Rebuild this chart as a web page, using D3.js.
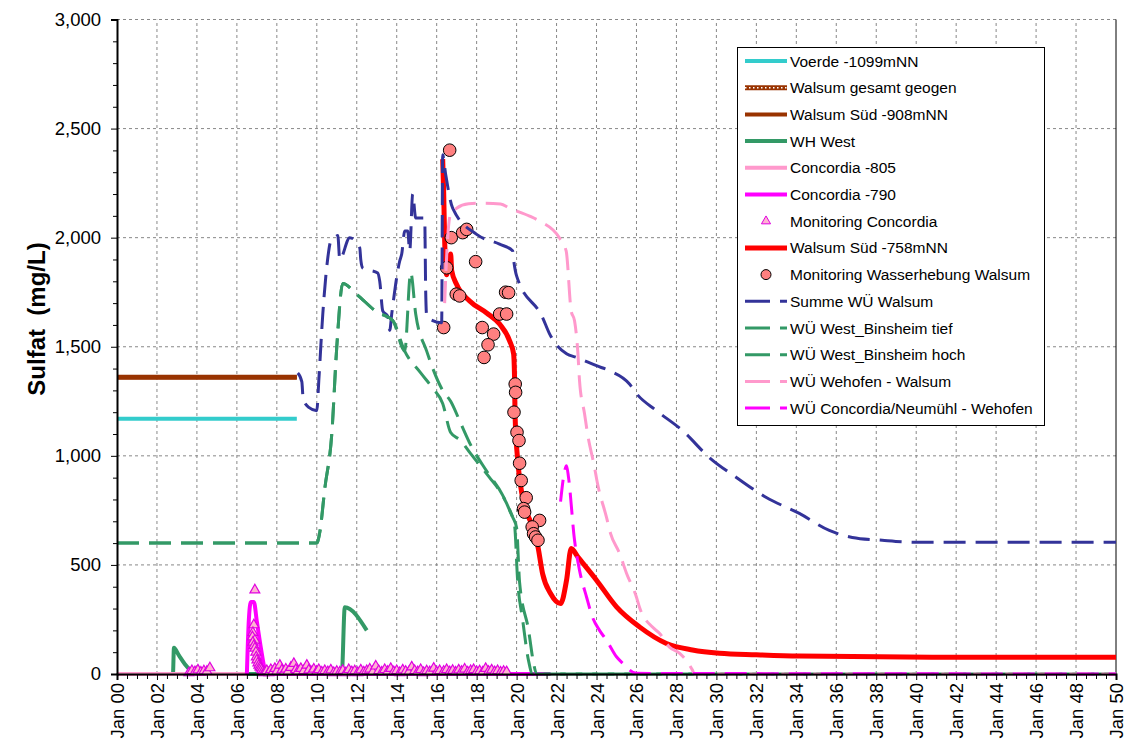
<!DOCTYPE html>
<html>
<head>
<meta charset="utf-8">
<script src="https://cdn.jsdelivr.net/npm/d3@7"></script>
<style>
  body { margin: 0; background: #fff; }
  text { font-family: Arial, "Liberation Sans", sans-serif; }
</style>
</head>
<body>
<div id="chart"></div>
<script>
// years since Jan 2000, sulfate in mg/L
const yearTicks = d3.range(0, 51, 2)
const sulfatTicks = d3.range(0, 3001, 500)

const voerde = [[0,1170],[9,1170]]
const walsumGeogen = [[0,1360],[9,1360]]
const walsumSued908 = [[0,1360],[9,1360]]
const whWest = [[0,0],[2.8,0],[2.85,120],[3.1,85],[3.4,45],[3.7,15],[3.9,0],[11.25,0],[11.4,306],[12.5,200]]
const concordia805 = [[0,0],[6.5,0]]
const concordia790 = [[6.5,0],[6.6,250],[6.7,330],[6.85,330],[7.0,240],[7.2,120],[7.4,20],[7.5,0],[21.7,0]]
const monConcordia = [[3.6,5],[3.75,15],[3.9,10],[4.05,18],[4.2,8],[4.35,14],[4.5,12],[4.65,28],
  [6.9,385],[6.85,225],[6.8,190],[6.78,170],[6.9,155],[6.8,145],[6.85,130],[6.9,118],[6.95,100],[6.97,78],
  [7.0,64],[7.05,50],[7.1,40],[7.15,32],[7.2,27],[7.25,20],[7.3,12],[7.35,5],
  [7.4,8],[7.5,15],[7.6,5],[7.7,20],[7.8,10],[7.9,25],[8.0,12],[8.15,40],[8.25,18],[8.35,8],[8.45,22],[8.55,10],
  [8.7,30],[8.85,48],[8.95,20],[9.05,12],[9.2,25],[9.35,15],[9.5,40],[9.6,18],[9.75,10],[9.85,22],[10.0,12],
  [10.1,20],[10.25,8],[10.4,15],[10.55,10],[10.7,18],[10.85,6],[11.0,12],[11.15,8],[11.3,16],[11.45,5],[11.6,20],
  [11.75,10],[11.9,14],[12.05,6],[12.2,18],[12.35,9],[12.5,15],[12.65,22],[12.8,10],[12.95,36],[13.1,15],[13.25,8],
  [13.4,20],[13.55,12],[13.7,25],[13.85,10],[14.0,15],[14.15,6],[14.3,18],[14.45,12],[14.6,8],[14.75,32],[14.9,15],
  [15.05,10],[15.2,20],[15.35,6],[15.5,14],[15.65,10],[15.85,26],[16.0,8],[16.15,15],[16.35,12],[16.5,20],[16.65,10],
  [16.8,16],[16.95,8],[17.1,18],[17.25,12],[17.4,22],[17.55,9],[17.7,15],[17.85,20],[18.0,10],[18.15,14],[18.3,8],
  [18.45,25],[18.6,12],[18.75,18],[18.9,10],[19.05,15],[19.2,8],[19.35,12],[19.5,10]]
const walsumSued758 = [[16.3,2360],[16.35,2210],[16.4,1985],[16.5,1830],[16.7,1925],[16.75,1850],[17.0,1785],
  [17.65,1710],[18.5,1655],[19.15,1604],[19.65,1527],[19.85,1467],[19.9,1344],[19.92,1193],[20.07,965],[20.3,809],
  [20.8,674],[21.07,582],[21.3,460],[21.7,369],[22.2,323],[22.5,430],[22.73,575],[23.07,536],[24.0,430],[25.0,308],
  [26.15,216],[27.5,140],[28.8,110],[30.15,95],[32,88],[34.15,82],[40.8,77],[50,77]]
const monWalsum = [[16.65,2401],[16.73,2000],[17.3,2023],[17.5,2038],[17.95,1890],[16.5,1862],[16.98,1741],[17.15,1733],
  [19.45,1750],[19.6,1748],[19.15,1650],[19.5,1650],[16.35,1588],[18.28,1588],[18.85,1558],[18.57,1509],[18.37,1451],
  [19.93,1329],[19.95,1291],[19.87,1200],[20.02,1108],[20.12,1070],[20.15,966],[20.23,887],[20.48,808],[20.35,758],
  [20.4,742],[21.15,704],[20.78,674],[20.85,643],[20.95,628],[21.07,613]]
const summeWalsum = [[9.05,1380],[9.25,1340],[9.32,1260],[9.6,1222],[10.0,1207],[10.1,1345],[10.3,1650],[10.55,1907],
  [10.7,1985],[10.95,2005],[11.05,2010],[11.15,1900],[11.65,2000],[12.15,1953],[12.2,1900],[12.3,1861],[13.05,1838],
  [13.15,1800],[13.3,1665],[13.55,1640],[13.65,1575],[13.75,1650],[14.15,1893],[14.25,1925],[14.4,2030],[14.55,2030],
  [14.65,1939],[14.8,2200],[14.95,2090],[15.4,2090],[15.45,1755],[15.5,1640],[15.8,1620],[16.25,1610],[16.3,2380],
  [16.45,2290],[16.8,2135],[18.0,2015],[19.15,1970],[19.8,1940],[19.85,1900],[20.0,1825],[21.3,1634],[21.65,1559],
  [22.5,1468],[23.0,1451],[24.0,1413],[24.65,1390],[25.65,1329],[26.0,1285],[27.0,1207],[28.3,1116],[29.65,992],
  [31.0,901],[32.5,809],[34.15,736],[35.65,658],[36.8,626],[38.3,613],[40.0,604],[50,604]]
const westTief = [[0,600],[10,600],[10.15,650],[10.4,850],[10.75,1100],[11.0,1500],[11.3,1790],[12.0,1740],[13.0,1660],
  [13.8,1620],[14.4,1480],[15.2,1380],[15.8,1310],[16.3,1240],[16.7,1107],[17.2,1070],[17.7,1010],[18.65,900],
  [19.15,840],[19.65,750],[19.9,680],[20.05,430],[20.3,250],[20.6,60],[20.8,0],[50,0]]
const westHoch = [[0,600],[10,600],[10.15,650],[10.4,850],[10.75,1100],[11.0,1500],[11.3,1790],[12.0,1740],[13.0,1660],
  [13.8,1620],[14.4,1480],[14.7,1840],[14.95,1650],[15.5,1480],[16.3,1300],[16.7,1250],[17.2,1150],[17.7,1050],
  [18.5,930],[19.3,820],[19.8,720],[20.0,670],[20.15,420],[20.6,200],[20.85,50],[21.0,0],[50,0]]
const wehofenWalsum = [[16.4,1700],[16.55,2000],[16.7,2110],[17.0,2135],[17.6,2155],[18.3,2158],[19.2,2154],[19.65,2135],
  [20.65,2099],[21.15,2076],[22.15,1998],[22.48,1939],[22.73,1665],[22.9,1619],[23.07,1468],[23.15,1344],[23.4,1193],
  [23.55,1102],[23.9,947],[24.05,873],[24.5,718],[24.7,645],[25.15,553],[25.5,462],[26.0,352],[26.15,306],[26.8,215],
  [27.15,187],[27.65,123],[28.15,96],[28.8,18],[28.9,0],[50,0]]
const concordiaWehofen = [[22.2,790],[22.38,920],[22.5,955],[22.6,900],[22.9,613],[23.15,475],[23.5,353],[23.8,260],
  [24.15,200],[24.5,155],[25.0,79],[25.3,50],[26.0,3],[50,0]]

const series = [
  {name: "Voerde -1099mNN", data: voerde, type: "line", color: "#33CCCC", width: 4},
  {name: "Walsum gesamt geogen", data: walsumGeogen, type: "dotted", color: "#993300", width: 5},
  {name: "Walsum Süd -908mNN", data: walsumSued908, type: "line", color: "#993300", width: 4},
  {name: "WH West", data: whWest, type: "line", color: "#339966", width: 4},
  {name: "Concordia -805", data: concordia805, type: "line", color: "#FF99CC", width: 4},
  {name: "Concordia -790", data: concordia790, type: "line", color: "#FF00FF", width: 4},
  {name: "Monitoring Concordia", data: monConcordia, type: "triangle", color: "#E000E0"},
  {name: "Walsum Süd -758mNN", data: walsumSued758, type: "line", color: "#FF0000", width: 5},
  {name: "Monitoring Wasserhebung Walsum", data: monWalsum, type: "circle", color: "#FF8080"},
  {name: "Summe WÜ Walsum", data: summeWalsum, type: "dash", color: "#333399", width: 3},
  {name: "WÜ West_Binsheim tief", data: westTief, type: "dash", color: "#339966", width: 3},
  {name: "WÜ West_Binsheim hoch", data: westHoch, type: "dash", color: "#339966", width: 3},
  {name: "WÜ Wehofen - Walsum", data: wehofenWalsum, type: "dash", color: "#FF99CC", width: 3},
  {name: "WÜ Concordia/Neumühl - Wehofen", data: concordiaWehofen, type: "dash", color: "#FF00FF", width: 3}
]

const width = 1128, height = 742
const svg = d3.select("#chart").append("svg")
    .attr("width", width)
    .attr("height", height)

const x = d3.scaleLinear().domain([0, 50]).range([117, 1116])
const y = d3.scaleLinear().domain([0, 3000]).range([674, 19.5])

// grid
svg.append("g").selectAll("line")
    .data(sulfatTicks.filter(d => d > 0))
    .join("line")
    .attr("x1", x(0)).attr("x2", x(50))
    .attr("y1", d => y(d)).attr("y2", d => y(d))
    .attr("stroke", "#888").attr("stroke-dasharray", "3,3")
svg.append("g").selectAll("line")
    .data(yearTicks.filter(d => d > 0 && d < 50))
    .join("line")
    .attr("x1", d => x(d)).attr("x2", d => x(d))
    .attr("y1", y(0)).attr("y2", y(3000))
    .attr("stroke", "#888").attr("stroke-dasharray", "3,3")

// right border
svg.append("line")
    .attr("x1", x(50)).attr("x2", x(50)).attr("y1", y(0)).attr("y2", y(3000))
    .attr("stroke", "#000").attr("stroke-width", 1)

const plot = svg.append("g")
const line = d3.line().x(d => x(d[0])).y(d => y(d[1])).curve(d3.curveMonotoneX)

series.forEach(s => {
    if (s.type === "triangle") {
        plot.append("g").selectAll("path")
            .data(s.data)
            .join("path")
            .attr("transform", d => `translate(${x(d[0])},${y(d[1])})`)
            .attr("d", d3.symbol(d3.symbolTriangle, 42))
            .attr("fill", "#FFB3D1")
            .attr("stroke", s.color)
            .attr("stroke-width", 1.2)
    } else if (s.type === "circle") {
        plot.append("g").selectAll("circle")
            .data(s.data)
            .join("circle")
            .attr("cx", d => x(d[0])).attr("cy", d => y(d[1]))
            .attr("r", 6.3)
            .attr("fill", s.color)
            .attr("stroke", "#000")
            .attr("stroke-width", 1)
    } else {
        plot.append("path")
            .datum(s.data)
            .attr("d", line)
            .attr("fill", "none")
            .attr("stroke", s.color)
            .attr("stroke-width", s.width)
            .attr("stroke-dasharray", s.type === "dash" ? "22,10" : null)
        if (s.type === "dotted") {
            plot.append("path")
                .datum(s.data)
                .attr("d", line)
                .attr("fill", "none")
                .attr("stroke", "#fff")
                .attr("stroke-width", 1.5)
                .attr("stroke-dasharray", "1.5,2.5")
        }
    }
})

// axes
const yAxis = svg.append("g")
    .attr("transform", `translate(${x(0)},0)`)
    .call(d3.axisLeft(y).tickValues(sulfatTicks).tickFormat(d3.format(",")).tickSize(6).tickPadding(10))
yAxis.append("g")
    .call(d3.axisLeft(y).tickValues(d3.range(0, 3001, 100).filter(d => d % 500)).tickFormat("").tickSize(4))
    .select(".domain").remove()
yAxis.selectAll(".domain").attr("stroke-width", 2)
yAxis.selectAll("text").attr("font-size", 18.5).attr("fill", "#000")

const xAxis = svg.append("g")
    .attr("transform", `translate(0,${y(0)})`)
    .call(d3.axisBottom(x).tickValues(yearTicks).tickFormat(d => "Jan " + d3.format("02")(d)).tickSize(6))
xAxis.append("g")
    .call(d3.axisBottom(x).tickValues(d3.range(0.5, 50, 0.5).filter(d => d % 2)).tickFormat("").tickSize(5))
    .select(".domain").remove()
xAxis.selectAll(".domain").attr("stroke-width", 2)
xAxis.selectAll(".tick text")
    .attr("font-size", 18.5)
    .attr("fill", "#000")
    .attr("transform", "rotate(-90)")
    .attr("text-anchor", "end")
    .attr("x", -9)
    .attr("y", 0)
    .attr("dy", "0.35em")

svg.append("text")
    .attr("transform", "translate(45,319) rotate(-90)")
    .attr("text-anchor", "middle")
    .attr("font-size", 24)
    .attr("font-weight", "bold")
    .text("Sulfat\u00a0 (mg/L)")

// legend
const legend = svg.append("g")
legend.append("rect")
    .attr("x", 737.5).attr("y", 47.5).attr("width", 307).attr("height", 378)
    .attr("fill", "#fff").attr("stroke", "#000")
const rows = legend.selectAll("g.item")
    .data(series)
    .join("g")
    .attr("class", "item")
    .attr("transform", (d, i) => `translate(0,${61 + i * 26.7})`)
rows.each(function (s) {
    const g = d3.select(this)
    if (s.type === "triangle") {
        g.append("path").attr("transform", "translate(766,0)")
            .attr("d", d3.symbol(d3.symbolTriangle, 36))
            .attr("fill", "#FFB3D1").attr("stroke", s.color)
    } else if (s.type === "circle") {
        g.append("circle").attr("cx", 766).attr("r", 5)
            .attr("fill", s.color).attr("stroke", "#000")
    } else {
        g.append("line").attr("x1", 745).attr("x2", 787)
            .attr("stroke", s.color).attr("stroke-width", s.width)
            .attr("stroke-dasharray", s.type === "dash" ? "25,10" : null)
        if (s.type === "dotted") {
            g.append("line").attr("x1", 745).attr("x2", 787)
                .attr("stroke", "#fff").attr("stroke-width", 1.5)
                .attr("stroke-dasharray", "1.5,2.5")
        }
    }
    g.append("text").attr("x", 790).attr("y", 5.5)
        .attr("font-size", 15.5)
        .text(s.name)
})
</script>
</body>
</html>
